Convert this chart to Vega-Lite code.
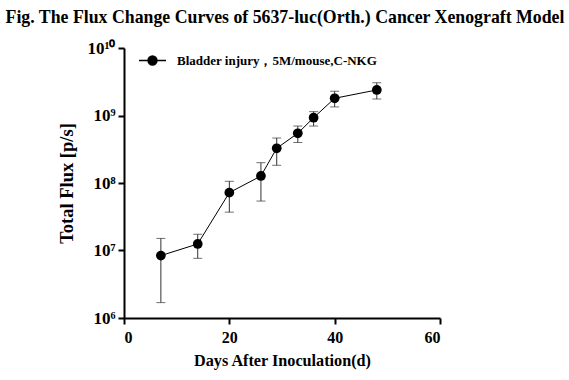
{
  "$schema": "https://vega.github.io/schema/vega-lite/v6.json",
  "width": 316,
  "height": 270,
  "autosize": {"type": "none"},
  "padding": {"left": 124, "top": 48, "right": 129, "bottom": 62},
  "background": "white",
  "title": {
    "text": "Fig. The Flux Change Curves of 5637-luc(Orth.) Cancer Xenograft Model",
    "font": "Liberation Serif",
    "fontSize": 17.8,
    "fontWeight": "bold",
    "color": "black",
    "anchor": "middle",
    "offset": 12,
    "dx": 3
  },
  "config": {
    "view": {"stroke": null},
    "axis": {
      "grid": false,
      "domainColor": "black",
      "domainWidth": 2,
      "tickColor": "black",
      "tickWidth": 2,
      "tickSize": 6,
      "labelFont": "Liberation Serif",
      "labelFontWeight": "bold",
      "labelColor": "black",
      "titleFont": "Liberation Serif",
      "titleFontWeight": "bold",
      "titleColor": "black"
    }
  },
  "data": {
    "values": [
      {"day": 7, "flux": 8.4e6, "hi": 1.51e7, "lo": 1.69e6, "series": "Bladder injury，5M/mouse,C-NKG"},
      {"day": 14, "flux": 1.25e7, "hi": 1.74e7, "lo": 7.66e6, "series": "Bladder injury，5M/mouse,C-NKG"},
      {"day": 20, "flux": 7.2e7, "hi": 1.06e8, "lo": 3.7e7, "series": "Bladder injury，5M/mouse,C-NKG"},
      {"day": 26, "flux": 1.27e8, "hi": 2.0e8, "lo": 5.4e7, "series": "Bladder injury，5M/mouse,C-NKG"},
      {"day": 29, "flux": 3.27e8, "hi": 4.64e8, "lo": 1.83e8, "series": "Bladder injury，5M/mouse,C-NKG"},
      {"day": 33, "flux": 5.45e8, "hi": 6.98e8, "lo": 3.98e8, "series": "Bladder injury，5M/mouse,C-NKG"},
      {"day": 36, "flux": 9.27e8, "hi": 1.14e9, "lo": 6.98e8, "series": "Bladder injury，5M/mouse,C-NKG"},
      {"day": 40, "flux": 1.8e9, "hi": 2.29e9, "lo": 1.34e9, "series": "Bladder injury，5M/mouse,C-NKG"},
      {"day": 48, "flux": 2.39e9, "hi": 3.06e9, "lo": 1.75e9, "series": "Bladder injury，5M/mouse,C-NKG"}
    ]
  },
  "encoding": {
    "x": {
      "field": "day", "type": "quantitative",
      "scale": {"domain": [0, 60], "nice": false, "zero": false},
      "axis": {"values": [0, 20, 40, 60], "title": "Days After Inoculation(d)", "labelFontSize": 16, "titleFontSize": 16.2, "labelPadding": 5, "titlePadding": 7}
    }
  },
  "layer": [
    {
      "mark": {"type": "rule", "color": "#333333", "strokeWidth": 1},
      "encoding": {
        "y": {"field": "lo", "type": "quantitative", "scale": {"type": "log", "domain": [1e6, 1e10], "nice": false}},
        "y2": {"field": "hi"}
      }
    },
    {
      "mark": {"type": "tick", "orient": "horizontal", "color": "#333333", "thickness": 1, "size": 9},
      "encoding": {"y": {"field": "hi", "type": "quantitative"}}
    },
    {
      "mark": {"type": "tick", "orient": "horizontal", "color": "#333333", "thickness": 1, "size": 9},
      "encoding": {"y": {"field": "lo", "type": "quantitative"}}
    },
    {
      "mark": {"type": "line", "color": "black", "strokeWidth": 1},
      "encoding": {"y": {"field": "flux", "type": "quantitative"}}
    },
    {
      "mark": {"type": "point", "filled": true, "opacity": 1, "size": 95, "shape": "circle"},
      "encoding": {
        "y": {
          "field": "flux", "type": "quantitative",
          "axis": {
            "values": [1e6, 1e7, 1e8, 1e9, 1e10],
            "title": "Total Flux [p/s]",
            "titleFontSize": 18.5,
            "labelFontSize": 17,
            "labelPadding": 3,
            "titlePadding": 10,
            "labelExpr": "round(log(datum.value)/LN10) == 6 ? '10⁶' : round(log(datum.value)/LN10) == 7 ? '10⁷' : round(log(datum.value)/LN10) == 8 ? '10⁸' : round(log(datum.value)/LN10) == 9 ? '10⁹' : '10¹⁰'"
          }
        },
        "color": {
          "field": "series", "type": "nominal",
          "scale": {"range": ["black"]},
          "legend": {
            "title": null,
            "orient": "none",
            "legendX": 14,
            "legendY": -2,
            "padding": 0,
            "symbolType": "M-1,0H1M0.33,0A0.33,0.33,0,1,1,-0.33,0A0.33,0.33,0,1,1,0.33,0Z",
            "symbolSize": 729,
            "symbolFillColor": "black",
            "symbolStrokeColor": "black",
            "symbolStrokeWidth": 1.5,
            "labelFont": "Liberation Serif",
            "labelFontSize": 13,
            "labelFontWeight": "bold",
            "labelColor": "black",
            "labelOffset": 10,
            "labelLimit": 0
          }
        }
      }
    }
  ]
}
